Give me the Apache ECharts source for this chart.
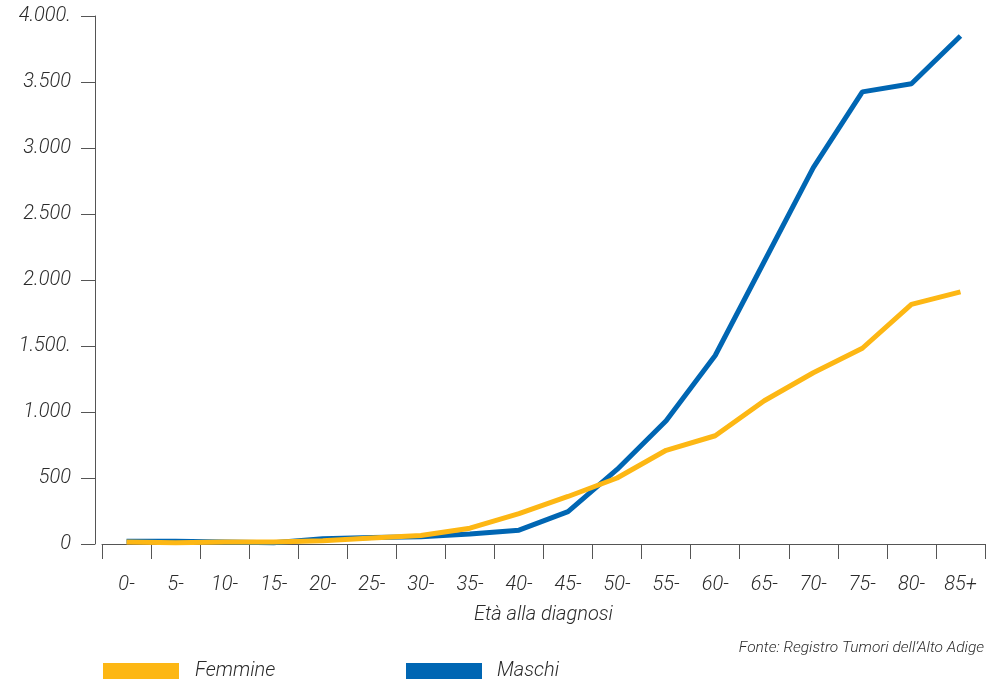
<!DOCTYPE html>
<html>
<head>
<meta charset="utf-8">
<script src="https://cdn.jsdelivr.net/npm/echarts@6/dist/echarts.min.js"></script>
<style>
  html, body { margin: 0; padding: 0; background: #ffffff; }
  #chart { width: 990px; height: 682px; }
</style>
</head>
<body>
<div id="chart"></div>
<script>
// Age classes at diagnosis
const ageClasses = ['0-', '5-', '10-', '15-', '20-', '25-', '30-', '35-', '40-', '45-',
                    '50-', '55-', '60-', '65-', '70-', '75-', '80-', '85+'];

// Rates by sex
const femmine = [15, 10, 15, 15, 25, 45, 65, 120, 230, 360, 500, 710, 820, 1085, 1297, 1483, 1815, 1910];
const maschi  = [20, 20, 15, 10, 40, 50, 55, 75, 105, 245, 565, 933, 1428, 2140, 2851, 3425, 3487, 3848];

// Y axis tick labels as printed
const yTickValues = [0, 500, 1000, 1500, 2000, 2500, 3000, 3500, 4000];
const yTickLabels = ['0', '500', '1.000', '1.500.', '2.000', '2.500', '3.000', '3.500', '4.000.'];

const COLOR_F = '#FDB714';
const COLOR_M = '#0066B3';
const AXIS_COLOR = '#555555';
const TEXT_COLOR = '#2b2b2b';
const FONT = 'Roboto';

const chart = echarts.init(document.getElementById('chart'), null, { renderer: 'canvas' });

const labelStyle = {
  color: TEXT_COLOR,
  fontFamily: FONT,
  fontStyle: 'italic',
  fontWeight: 300,
  fontSize: 20
};

chart.setOption({
  animation: false,
  backgroundColor: '#ffffff',
  grid: { left: 102, right: 5, top: 16, bottom: 138, containLabel: false },
  legend: [
    {
      data: ['Femmine'], left: 103, top: 661, icon: 'rect', padding: 0,
      itemWidth: 76, itemHeight: 16,
      textStyle: Object.assign({}, labelStyle, { padding: [0, 0, 0, 11] })
    },
    {
      data: ['Maschi'], left: 406, top: 661, icon: 'rect', padding: 0,
      itemWidth: 76, itemHeight: 16,
      textStyle: Object.assign({}, labelStyle, { padding: [0, 0, 0, 10] })
    }
  ],
  xAxis: {
    type: 'category',
    data: ageClasses,
    boundaryGap: true,
    offset: 7,
    axisLine: { show: true, lineStyle: { color: AXIS_COLOR, width: 1 } },
    axisTick: { show: true, length: 15, interval: 0, lineStyle: { color: AXIS_COLOR, width: 1 } },
    axisLabel: Object.assign({}, labelStyle, { interval: 0, margin: 24 }),
    splitLine: { show: false },
    name: 'Età alla diagnosi',
    nameLocation: 'middle',
    nameGap: 54,
    nameTextStyle: Object.assign({}, labelStyle)
  },
  yAxis: {
    type: 'value',
    min: 0,
    max: 4000,
    interval: 500,
    offset: 7,
    axisLine: { show: true, lineStyle: { color: AXIS_COLOR, width: 1 } },
    axisTick: { show: true, length: 14, lineStyle: { color: AXIS_COLOR, width: 1 } },
    axisLabel: Object.assign({}, labelStyle, {
      margin: 24,
      formatter: function (v) {
        const i = yTickValues.indexOf(v);
        return i >= 0 ? yTickLabels[i] : '';
      }
    }),
    splitLine: { show: false }
  },
  graphic: [
    {
      type: 'text',
      right: 6,
      top: 640,
      style: {
        text: 'Fonte: Registro Tumori dell\u2019Alto Adige',
        fill: TEXT_COLOR,
        font: 'italic 300 15.5px ' + FONT
      }
    }
  ],
  series: [
    {
      name: 'Maschi', type: 'line', data: maschi,
      symbol: 'none', color: COLOR_M,
      lineStyle: { color: COLOR_M, width: 5 }
    },
    {
      name: 'Femmine', type: 'line', data: femmine,
      symbol: 'none', color: COLOR_F,
      lineStyle: { color: COLOR_F, width: 5 }
    }
  ]
});
</script>
</body>
</html>
